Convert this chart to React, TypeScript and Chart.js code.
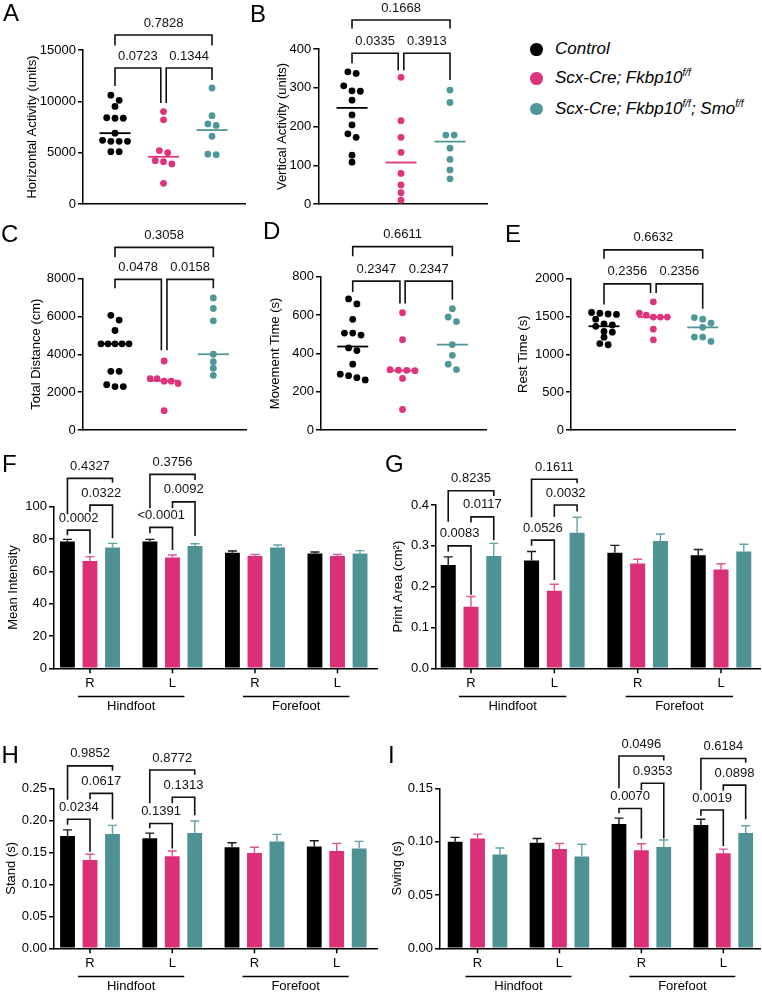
import React, { useEffect, useRef } from 'react';
import { Chart, registerables } from 'chart.js';
Chart.register(...registerables);

const FONT = "'Liberation Sans', Arial, Helvetica, sans-serif";
Chart.defaults.font.family = FONT;

const BAR_COLORS = ['#000000', '#DB2F78', '#4E9294'];
const DOT_COLORS = ['#000000', '#E0337D', '#4F9799'];
const ERR_COLORS = ['#1a1a1a', '#E0558F', '#62A3A5'];

// ---------------- Legend ----------------
const legendItems = [
  { parts: [{ t: 'Control' }] },
  { parts: [{ t: 'Scx-Cre; Fkbp10' }, { t: 'f/f', sup: true }] },
  { parts: [{ t: 'Scx-Cre; Fkbp10' }, { t: 'f/f', sup: true }, { t: '; Smo' }, { t: 'f/f', sup: true }] },
];

// ---------------- Panel A ----------------
const A_control = [10600, 10100, 9500, 8400, 8350, 8350, 6900, 6200, 6100, 6100, 6100, 5100, 5100];
const A_fkbp = [9000, 8200, 5200, 5000, 4220, 4120, 3900, 2010];
const A_smo = [11300, 8600, 7800, 7650, 6600, 4850, 4800];
const A_median = [6900, 4600, 7200];
const A_brackets = [
  { a: 0, b: 2, y: 16460, ya: 15450, yb: 15450, label: '0.7828' },
  { a: 0, b: 1, y: 13250, ya: 11500, yb: 9840, label: '0.0723', db: -2.7 },
  { a: 1, b: 2, y: 13250, ya: 9840, yb: 12080, label: '0.1344', da: 2.7 },
];

// ---------------- Panel B ----------------
const B_control = [341, 337, 305, 292, 291, 268, 230, 204, 181, 172, 126, 108];
const B_fkbp = [327, 215, 172, 133, 79, 49, 29, 10];
const B_smo = [294, 262, 178, 178, 144, 115, 88, 65];
const B_median = [248, 107, 161];
const B_brackets = [
  { a: 0, b: 2, y: 475, ya: 453, yb: 453, label: '0.1668' },
  { a: 0, b: 1, y: 389, ya: 363, yb: 345, label: '0.0335', db: -2.8 },
  { a: 1, b: 2, y: 389, ya: 345, yb: 320, label: '0.3913', da: 2.8 },
];

// ---------------- Panel C ----------------
const C_control = [6050, 5800, 5250, 4550, 4550, 4550, 4550, 4550, 3100, 3100, 2400, 2300, 2300];
const C_fkbp = [3645, 2715, 2715, 2580, 2580, 2460, 1030];
const C_smo = [6965, 6410, 5760, 4000, 3610, 3265, 2890];
const C_median = [4550, 2610, 4000];
const C_brackets = [
  { a: 0, b: 2, y: 9630, ya: 9110, yb: 9110, label: '0.3058' },
  { a: 0, b: 1, y: 7945, ya: 7480, yb: 4210, label: '0.0478', db: -2.8 },
  { a: 1, b: 2, y: 7945, ya: 4210, yb: 7480, label: '0.0158', da: 2.8 },
];

// ---------------- Panel D ----------------
const D_control = [684, 658, 578, 506, 506, 496, 429, 415, 344, 292, 284, 274, 262];
const D_fkbp = [612, 472, 315, 313, 312, 310, 270, 108];
const D_smo = [633, 590, 566, 446, 390, 344, 316];
const D_median = [436, 311, 446];
const D_brackets = [
  { a: 0, b: 2, y: 957, ya: 906, yb: 906, label: '0.6611' },
  { a: 0, b: 1, y: 777, ya: 720, yb: 660, label: '0.2347', db: -2.6 },
  { a: 1, b: 2, y: 777, ya: 660, yb: 680, label: '0.2347', da: 2.6 },
];

// ---------------- Panel E ----------------
const E_control = [1550, 1540, 1530, 1525, 1462, 1400, 1385, 1368, 1300, 1290, 1225, 1140, 1125];
const E_fkbp = [1690, 1540, 1515, 1490, 1490, 1490, 1330, 1190];
const E_smo = [1483, 1462, 1410, 1354, 1226, 1226, 1169];
const E_median = [1368, 1490, 1354];
const E_brackets = [
  { a: 0, b: 2, y: 2374, ya: 2258, yb: 2258, label: '0.6632' },
  { a: 0, b: 1, y: 1926, ya: 1655, yb: 1806, label: '0.2356', db: -2.8 },
  { a: 1, b: 2, y: 1926, ya: 1806, yb: 1600, label: '0.2356', da: 2.8 },
];

// ---------------- Bar panels (shared categories) ----------------
const footSides = ['R', 'L', 'R', 'L'];
const footGroups = [
  { label: 'Hindfoot', from: 0, to: 1 },
  { label: 'Forefoot', from: 2, to: 3 },
];

// Panel F
const F_control = [78.4, 78.4, 71.5, 71.1];
const F_control_sem = [1.4, 1.4, 1.1, 0.9];
const F_fkbp = [66.4, 68.5, 69.5, 69.5];
const F_fkbp_sem = [2.7, 1.6, 1.0, 1.0];
const F_smo = [74.8, 75.7, 74.8, 71.1];
const F_smo_sem = [2.5, 1.4, 1.5, 1.7];
const F_brackets = [
  { g: 0, a: 0, b: 2, y: 117.5, ya: 95.4, yb: 114.8, label: '0.4327' },
  { g: 0, a: 1, b: 2, y: 101, ya: 96.8, yb: 80.4, label: '0.0322' },
  { g: 0, a: 0, b: 1, y: 85.5, ya: 82.4, yb: 71.1, label: '0.0002' },
  { g: 1, a: 0, b: 2, y: 120, ya: 99, yb: 116.5, label: '0.3756' },
  { g: 1, a: 1, b: 2, y: 103, ya: 99, yb: 81.8, label: '0.0092' },
  { g: 1, a: 0, b: 1, y: 87.2, ya: 83.5, yb: 73.2, label: '<0.0001' },
];

// Panel G
const G_control = [0.253, 0.264, 0.283, 0.277];
const G_control_sem = [0.02, 0.022, 0.018, 0.014];
const G_fkbp = [0.151, 0.19, 0.257, 0.242];
const G_fkbp_sem = [0.025, 0.016, 0.01, 0.014];
const G_smo = [0.275, 0.332, 0.312, 0.286];
const G_smo_sem = [0.031, 0.038, 0.017, 0.018];
const G_brackets = [
  { g: 0, a: 0, b: 2, y: 0.435, ya: 0.359, yb: 0.422, label: '0.8235' },
  { g: 0, a: 1, b: 2, y: 0.371, ya: 0.357, yb: 0.314, label: '0.0117' },
  { g: 0, a: 0, b: 1, y: 0.3, ya: 0.286, yb: 0.18, label: '0.0083' },
  { g: 1, a: 0, b: 2, y: 0.463, ya: 0.37, yb: 0.453, label: '0.1611' },
  { g: 1, a: 1, b: 2, y: 0.4, ya: 0.371, yb: 0.384, label: '0.0032' },
  { g: 1, a: 0, b: 1, y: 0.314, ya: 0.3, yb: 0.216, label: '0.0526' },
];

// Panel H
const H_control = [0.1755, 0.172, 0.158, 0.159];
const H_control_sem = [0.0095, 0.008, 0.007, 0.009];
const H_fkbp = [0.138, 0.144, 0.149, 0.152];
const H_fkbp_sem = [0.009, 0.008, 0.009, 0.012];
const H_smo = [0.1786, 0.18, 0.167, 0.156];
const H_smo_sem = [0.0134, 0.019, 0.011, 0.011];
const H_brackets = [
  { g: 0, a: 0, b: 2, y: 0.285, ya: 0.232, yb: 0.2775, label: '0.9852' },
  { g: 0, a: 1, b: 2, y: 0.242, ya: 0.233, yb: 0.2016, label: '0.0617' },
  { g: 0, a: 0, b: 1, y: 0.2016, ya: 0.193, yb: 0.151, label: '0.0234' },
  { g: 1, a: 0, b: 2, y: 0.2786, ya: 0.2266, yb: 0.271, label: '0.8772' },
  { g: 1, a: 1, b: 2, y: 0.236, ya: 0.2266, yb: 0.208, label: '0.1313' },
  { g: 1, a: 0, b: 1, y: 0.195, ya: 0.1875, yb: 0.156, label: '0.1391' },
];

// Panel I
const I_control = [0.1, 0.099, 0.1166, 0.1156];
const I_control_sem = [0.004, 0.004, 0.0054, 0.0054];
const I_fkbp = [0.103, 0.093, 0.092, 0.089];
const I_fkbp_sem = [0.004, 0.0053, 0.006, 0.004];
const I_smo = [0.088, 0.086, 0.095, 0.108];
const I_smo_sem = [0.006, 0.0115, 0.0066, 0.0069];
const I_brackets = [
  { g: 2, a: 0, b: 2, y: 0.1803, ya: 0.15, yb: 0.176, label: '0.0496' },
  { g: 2, a: 1, b: 2, y: 0.1547, ya: 0.1484, yb: 0.103, label: '0.9353' },
  { g: 2, a: 0, b: 1, y: 0.131, ya: 0.1266, yb: 0.103, label: '0.0070' },
  { g: 3, a: 0, b: 2, y: 0.178, ya: 0.1484, yb: 0.174, label: '0.6184' },
  { g: 3, a: 1, b: 2, y: 0.153, ya: 0.1478, yb: 0.121, label: '0.0898' },
  { g: 3, a: 0, b: 1, y: 0.1297, ya: 0.1243, yb: 0.0959, label: '0.0019' },
];

// ---------------- Panel configurations (layout) ----------------
const scatterPanels = [
  { letter: 'A', geo: { x0: 0, y0: 0, w: 250, h: 215, l: 83, t: 50, r: 245, b: 204, titleX: 32.3, lx: 3, ly: 21 },
    xMin: -0.66, xMax: 2.68, yMax: 15000, step: 5000, dec: 0, title: 'Horizontal Activity (units)',
    groups: [A_control, A_fkbp, A_smo], medians: A_median, brackets: A_brackets },
  { letter: 'B', geo: { x0: 250, y0: 0, w: 250, h: 215, l: 318.3, t: 49, r: 487, b: 204, titleX: 282, lx: 250, ly: 22 },
    xMin: -0.688, xMax: 2.755, yMax: 400, step: 100, dec: 0, title: 'Vertical Activity (units)',
    groups: [B_control, B_fkbp, B_smo], medians: B_median, brackets: B_brackets },
  { letter: 'C', geo: { x0: 0, y0: 215, w: 250, h: 225, l: 82.7, t: 278.3, r: 246, b: 433.3, titleX: 36.7, lx: 1, ly: 242 },
    xMin: -0.657, xMax: 2.665, yMax: 8000, step: 2000, dec: 0, title: 'Total Distance (cm)',
    groups: [C_control, C_fkbp, C_smo], medians: C_median, brackets: C_brackets },
  { letter: 'D', geo: { x0: 250, y0: 215, w: 250, h: 225, l: 321, t: 276.7, r: 486.7, b: 432.7, titleX: 275.3, lx: 263, ly: 239 },
    xMin: -0.637, xMax: 2.69, yMax: 800, step: 200, dec: 0, title: 'Movement Time (s)',
    groups: [D_control, D_fkbp, D_smo], medians: D_median, brackets: D_brackets },
  { letter: 'E', geo: { x0: 500, y0: 215, w: 262, h: 225, l: 571, t: 278.3, r: 735, b: 433.3, titleX: 523.3, lx: 505, ly: 242 },
    xMin: -0.669, xMax: 2.655, yMax: 2000, step: 500, dec: 0, title: 'Rest Time (s)',
    groups: [E_control, E_fkbp, E_smo], medians: E_median, brackets: E_brackets },
];

const barPanels = [
  { letter: 'F', geo: { x0: 0, y0: 440, w: 380, h: 280, l: 54, t: 506.7, r: 377, b: 668.3, titleX: 13.3, lx: 2, ly: 472 },
    xMin: -0.436, xMax: 3.479, yMax: 100, step: 20, dec: 0, title: 'Mean Intensity',
    means: [F_control, F_fkbp, F_smo], sems: [F_control_sem, F_fkbp_sem, F_smo_sem], brackets: F_brackets },
  { letter: 'G', geo: { x0: 380, y0: 440, w: 382, h: 280, l: 436, t: 505, r: 760, b: 668.3, titleX: 398.3, lx: 385, ly: 472 },
    xMin: -0.42, xMax: 3.468, yMax: 0.4, step: 0.1, dec: 1, title: 'Print Area (cm²)',
    means: [G_control, G_fkbp, G_smo], sems: [G_control_sem, G_fkbp_sem, G_smo_sem], brackets: G_brackets },
  { letter: 'H', geo: { x0: 0, y0: 720, w: 380, h: 273, l: 54, t: 788.3, r: 377, b: 948.3, titleX: 11.7, lx: 1.5, ly: 763 },
    xMin: -0.438, xMax: 3.49, yMax: 0.25, step: 0.05, dec: 2, title: 'Stand (s)',
    means: [H_control, H_fkbp, H_smo], sems: [H_control_sem, H_fkbp_sem, H_smo_sem], brackets: H_brackets },
  { letter: 'I', geo: { x0: 380, y0: 720, w: 382, h: 273, l: 440, t: 788.3, r: 760, b: 948.3, titleX: 397.7, lx: 388, ly: 763 },
    xMin: -0.458, xMax: 3.448, yMax: 0.15, step: 0.05, dec: 2, title: 'Swing (s)',
    means: [I_control, I_fkbp, I_smo], sems: [I_control_sem, I_fkbp_sem, I_smo_sem], brackets: I_brackets },
];

// ---------------- helpers ----------------
function swarm(values, g, pxPerY, pxPerX) {
  const idx = values.map((_, i) => i).sort((a, b) => values[b] - values[a]);
  const rows = [];
  let cur = [];
  let start = 0;
  for (const i of idx) {
    if (cur.length && (start - values[i]) * pxPerY <= 6.5) cur.push(i);
    else {
      if (cur.length) rows.push(cur);
      cur = [i];
      start = values[i];
    }
  }
  if (cur.length) rows.push(cur);
  const pts = [];
  for (const row of rows) {
    const n = row.length;
    const sp = n > 1 ? Math.min(8.3, 28 / (n - 1)) : 0;
    row.forEach((i, k) => pts.push({ x: g + ((k - (n - 1) / 2) * sp) / pxPerX, y: values[i] }));
  }
  return pts;
}

function yScale(p) {
  const g = p.geo;
  const pl = g.titleX - g.x0 - 7.8;
  const W = g.l - g.x0 - pl;
  return {
    pl,
    scale: {
      type: 'linear',
      min: 0,
      max: p.yMax,
      ticks: {
        stepSize: p.step,
        color: '#000',
        font: { family: FONT, size: 13 },
        padding: 2,
        callback: (v) => Number(v).toFixed(p.dec),
      },
      grid: { display: true, drawOnChartArea: false, drawTicks: true, tickLength: 5, color: '#000', lineWidth: 1.5 },
      border: { display: true, color: '#000', width: 1.5 },
      title: { display: true, text: p.title, color: '#000', font: { family: FONT, size: 13 }, padding: 0 },
      afterFit: (s) => { s.width = W; },
    },
  };
}

function xScale(p, n) {
  return {
    type: 'linear',
    min: p.xMin,
    max: p.xMax,
    offset: false,
    ticks: { display: false },
    grid: { display: false, offset: false },
    border: { display: true, color: '#000', width: 1.5 },
    afterBuildTicks: (s) => { s.ticks = Array.from({ length: n }, (_, i) => ({ value: i })); },
    afterFit: (s) => { s.height = 0; },
  };
}

function drawLetter(ctx, p) {
  ctx.save();
  ctx.fillStyle = '#000';
  ctx.font = `24px ${FONT}`;
  ctx.textAlign = 'left';
  ctx.textBaseline = 'alphabetic';
  ctx.fillText(p.letter, p.geo.lx - p.geo.x0, p.geo.ly - p.geo.y0);
  ctx.restore();
}

function drawBracket(ctx, ys, xa, xb, br) {
  const yy = ys.getPixelForValue(br.y);
  const ya = ys.getPixelForValue(br.ya);
  const yb = ys.getPixelForValue(br.yb);
  ctx.beginPath();
  ctx.moveTo(xa, ya);
  ctx.lineTo(xa, yy);
  ctx.lineTo(xb, yy);
  ctx.lineTo(xb, yb);
  ctx.stroke();
  ctx.fillText(br.label, (xa + xb) / 2, yy - 12);
}

function bracketStyle(ctx) {
  ctx.strokeStyle = '#111';
  ctx.lineWidth = 1.6;
  ctx.lineJoin = 'miter';
  ctx.fillStyle = '#111';
  ctx.font = `13px ${FONT}`;
  ctx.textAlign = 'center';
  ctx.textBaseline = 'middle';
}

function scatterConfig(p) {
  const g = p.geo;
  const pxPerY = (g.b - g.t) / p.yMax;
  const pxPerX = (g.r - g.l) / (p.xMax - p.xMin);
  const ys = yScale(p);
  const overlay = {
    id: 'overlay' + p.letter,
    afterDatasetsDraw(chart) {
      const ctx = chart.ctx;
      const xs = chart.scales.x;
      const yS = chart.scales.y;
      ctx.save();
      p.medians.forEach((m, gi) => {
        const x = xs.getPixelForValue(gi);
        const y = yS.getPixelForValue(m);
        ctx.strokeStyle = DOT_COLORS[gi];
        ctx.lineWidth = 1.8;
        ctx.beginPath();
        ctx.moveTo(x - 15.5, y);
        ctx.lineTo(x + 15.5, y);
        ctx.stroke();
      });
      ctx.restore();
    },
    afterDraw(chart) {
      const ctx = chart.ctx;
      const xs = chart.scales.x;
      const yS = chart.scales.y;
      drawLetter(ctx, p);
      ctx.save();
      bracketStyle(ctx);
      for (const br of p.brackets) {
        const xa = xs.getPixelForValue(br.a) + (br.da || 0);
        const xb = xs.getPixelForValue(br.b) + (br.db || 0);
        drawBracket(ctx, yS, xa, xb, br);
      }
      ctx.restore();
    },
  };
  return {
    type: 'scatter',
    data: {
      datasets: p.groups.map((vals, gi) => ({
        data: swarm(vals, gi, pxPerY, pxPerX),
        backgroundColor: DOT_COLORS[gi],
        borderColor: DOT_COLORS[gi],
        borderWidth: 0,
        pointRadius: 3.4,
        pointHoverRadius: 3.4,
      })),
    },
    options: {
      animation: false,
      responsive: false,
      devicePixelRatio: 1,
      events: [],
      layout: { padding: { left: ys.pl, top: g.t - g.y0, right: g.x0 + g.w - g.r, bottom: g.y0 + g.h - g.b } },
      plugins: { legend: { display: false }, tooltip: { enabled: false } },
      scales: { x: xScale(p, 3), y: ys.scale },
    },
    plugins: [overlay],
  };
}

function barConfig(p) {
  const g = p.geo;
  const ys = yScale(p);
  const overlay = {
    id: 'overlay' + p.letter,
    afterDatasetsDraw(chart) {
      const ctx = chart.ctx;
      const yS = chart.scales.y;
      ctx.save();
      ctx.lineWidth = 1.4;
      p.means.forEach((vals, ds) => {
        const meta = chart.getDatasetMeta(ds);
        ctx.strokeStyle = ERR_COLORS[ds];
        meta.data.forEach((bar, i) => {
          const x = bar.x;
          const y0 = yS.getPixelForValue(vals[i]);
          const y1 = yS.getPixelForValue(vals[i] + p.sems[ds][i]);
          ctx.beginPath();
          ctx.moveTo(x, y0);
          ctx.lineTo(x, y1);
          ctx.moveTo(x - 4.5, y1);
          ctx.lineTo(x + 4.5, y1);
          ctx.stroke();
        });
      });
      ctx.restore();
    },
    afterDraw(chart) {
      const ctx = chart.ctx;
      const xs = chart.scales.x;
      const yS = chart.scales.y;
      const bottom = chart.chartArea.bottom;
      drawLetter(ctx, p);
      ctx.save();
      ctx.strokeStyle = '#000';
      ctx.fillStyle = '#000';
      ctx.font = `13px ${FONT}`;
      ctx.textAlign = 'center';
      ctx.textBaseline = 'middle';
      footSides.forEach((lab, i) => {
        const x = xs.getPixelForValue(i);
        ctx.lineWidth = 1.5;
        ctx.beginPath();
        ctx.moveTo(x, bottom);
        ctx.lineTo(x, bottom + 5);
        ctx.stroke();
        ctx.fillText(lab, x, bottom + 15);
      });
      footGroups.forEach((fg) => {
        const x1 = xs.getPixelForValue(fg.from) - 12;
        const x2 = xs.getPixelForValue(fg.to) + 12;
        const yl = Math.round(bottom + 27.7) + 0.5;
        ctx.lineWidth = 1.3;
        ctx.beginPath();
        ctx.moveTo(x1, yl);
        ctx.lineTo(x2, yl);
        ctx.stroke();
        ctx.fillText(fg.label, (x1 + x2) / 2, bottom + 38.5);
      });
      bracketStyle(ctx);
      for (const br of p.brackets) {
        const xa = chart.getDatasetMeta(br.a).data[br.g].x;
        const xb = chart.getDatasetMeta(br.b).data[br.g].x;
        drawBracket(ctx, yS, xa, xb, br);
      }
      ctx.restore();
    },
  };
  return {
    type: 'bar',
    data: {
      datasets: p.means.map((vals, ds) => ({
        data: vals.map((v, i) => ({ x: i, y: v })),
        backgroundColor: BAR_COLORS[ds],
        borderWidth: 0,
        categoryPercentage: 0.82,
        barPercentage: 0.66,
      })),
    },
    options: {
      animation: false,
      responsive: false,
      devicePixelRatio: 1,
      events: [],
      layout: { padding: { left: ys.pl, top: g.t - g.y0, right: g.x0 + g.w - g.r, bottom: g.y0 + g.h - g.b } },
      plugins: { legend: { display: false }, tooltip: { enabled: false } },
      scales: { x: xScale(p, 4), y: ys.scale },
    },
    plugins: [overlay],
  };
}

function Panel({ p, kind }) {
  const ref = useRef(null);
  useEffect(() => {
    const cfg = kind === 'scatter' ? scatterConfig(p) : barConfig(p);
    const chart = new Chart(ref.current, cfg);
    return () => chart.destroy();
  }, []);
  const g = p.geo;
  return (
    <canvas
      ref={ref}
      width={g.w}
      height={g.h}
      style={{ position: 'absolute', left: g.x0, top: g.y0, width: g.w, height: g.h }}
    />
  );
}

function Legend() {
  const centers = [49.3, 78.3, 109];
  return (
    <>
      {legendItems.map((it, i) => (
        <React.Fragment key={i}>
          <div
            style={{
              position: 'absolute',
              left: 536.7 - 6.4,
              top: centers[i] - 6.4,
              width: 12.8,
              height: 12.8,
              borderRadius: '50%',
              background: DOT_COLORS[i],
            }}
          />
          <div
            style={{
              position: 'absolute',
              left: 555,
              top: centers[i] - 10,
              height: 20,
              lineHeight: '20px',
              fontFamily: FONT,
              fontSize: 17,
              fontStyle: 'italic',
              color: '#000',
              whiteSpace: 'nowrap',
            }}
          >
            {it.parts.map((pt, k) =>
              pt.sup ? (
                <span key={k} style={{ fontSize: 10, position: 'relative', top: -7 }}>{pt.t}</span>
              ) : (
                <span key={k}>{pt.t}</span>
              )
            )}
          </div>
        </React.Fragment>
      ))}
    </>
  );
}

export default function App() {
  return (
    <div
      style={{
        position: 'absolute',
        left: 0,
        top: 0,
        width: 762,
        height: 993,
        background: '#fff',
        overflow: 'hidden',
      }}
    >
      {scatterPanels.map((p) => (
        <Panel key={p.letter} p={p} kind="scatter" />
      ))}
      {barPanels.map((p) => (
        <Panel key={p.letter} p={p} kind="bar" />
      ))}
      <Legend />
    </div>
  );
}
